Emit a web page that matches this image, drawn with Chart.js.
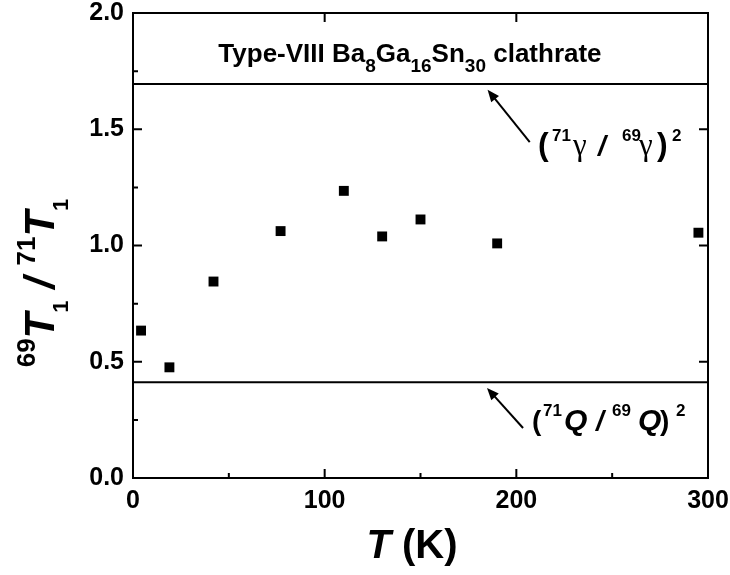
<!DOCTYPE html>
<html>
<head>
<meta charset="utf-8">
<script src="https://cdn.jsdelivr.net/npm/chart.js@4.4.0/dist/chart.umd.min.js"></script>
<style>
  html, body { margin: 0; padding: 0; background: #fff; }
</style>
</head>
<body>
<canvas id="myChart" width="730" height="575"></canvas>
<script>
// measured points: temperature (K) and 69T1/71T1
const temps = [4.2, 19, 42, 77, 110, 130, 150, 190, 295];
const ratios = [0.634, 0.476, 0.845, 1.062, 1.235, 1.039, 1.112, 1.009, 1.055];
// reference levels
const gammaLevel = 1.695; // (71γ/69γ)^2
const quadLevel = 0.412;  // (71Q/69Q)^2
const xTicks = [0, 100, 200, 300];
const yTicks = [0.0, 0.5, 1.0, 1.5, 2.0];
const xMinor = [50, 150, 250];
const yMinor = [0.25, 0.75, 1.25, 1.75];

const FONT = "'Liberation Sans', Arial, sans-serif";
const GREEK = "'Liberation Serif', 'Times New Roman', serif";

// draws text pieces one after another; a piece may carry its own x offset
function richText(ctx, parts, x, y, align) {
    let w = 0;
    parts.forEach(p => {
        ctx.font = p.f;
        p.w = ctx.measureText(p.t).width;
        w += p.w;
    });
    let cx = align === 'center' ? x - w / 2 : x;
    ctx.textAlign = 'left';
    ctx.textBaseline = 'alphabetic';
    parts.forEach(p => {
        ctx.font = p.f;
        const px = p.x !== undefined ? x + p.x : cx;
        ctx.fillText(p.t, px, y + (p.dy || 0));
        cx = px + p.w;
    });
}

function arrow(ctx, x1, y1, x2, y2) {
    const a = Math.atan2(y2 - y1, x2 - x1);
    const len = 12, wid = 5;
    ctx.beginPath();
    ctx.moveTo(x1, y1);
    ctx.lineTo(x2 - Math.cos(a) * len * 0.8, y2 - Math.sin(a) * len * 0.8);
    ctx.lineWidth = 2;
    ctx.stroke();
    ctx.beginPath();
    ctx.moveTo(x2, y2);
    ctx.lineTo(x2 - Math.cos(a) * len + Math.sin(a) * wid, y2 - Math.sin(a) * len - Math.cos(a) * wid);
    ctx.lineTo(x2 - Math.cos(a) * len - Math.sin(a) * wid, y2 - Math.sin(a) * len + Math.cos(a) * wid);
    ctx.closePath();
    ctx.fill();
}

const decor = {
    id: 'decor',
    afterDraw(chart) {
        const ctx = chart.ctx;
        const a = chart.chartArea;
        const xs = chart.scales.x, ys = chart.scales.y;
        ctx.save();
        ctx.strokeStyle = '#000';
        ctx.fillStyle = '#000';
        ctx.lineWidth = 2;
        ctx.strokeRect(a.left, a.top, a.right - a.left, a.bottom - a.top);

        // inward ticks
        ctx.beginPath();
        xTicks.forEach(v => {
            const px = xs.getPixelForValue(v);
            ctx.moveTo(px, a.bottom); ctx.lineTo(px, a.bottom - 9);
            ctx.moveTo(px, a.top); ctx.lineTo(px, a.top + 9);
        });
        xMinor.forEach(v => {
            const px = xs.getPixelForValue(v);
            ctx.moveTo(px, a.bottom); ctx.lineTo(px, a.bottom - 5);
        });
        yTicks.forEach(v => {
            const py = ys.getPixelForValue(v);
            ctx.moveTo(a.left, py); ctx.lineTo(a.left + 9, py);
            ctx.moveTo(a.right, py); ctx.lineTo(a.right - 9, py);
        });
        yMinor.forEach(v => {
            const py = ys.getPixelForValue(v);
            ctx.moveTo(a.left, py); ctx.lineTo(a.left + 5, py);
        });
        ctx.stroke();

        const bold = s => 'bold ' + s + 'px ' + FONT;
        const boldIt = s => 'italic bold ' + s + 'px ' + FONT;
        const greek = s => s + 'px ' + GREEK;

        // title inside the plot
        richText(ctx, [
            { t: 'Type-VIII Ba', f: bold(26) },
            { t: '8', f: bold(19), dy: 10 },
            { t: 'Ga', f: bold(26) },
            { t: '16', f: bold(19), dy: 10 },
            { t: 'Sn', f: bold(26) },
            { t: '30', f: bold(19), dy: 10 },
            { t: ' clathrate', f: bold(26) }
        ], xs.getPixelForValue(144.5), ys.getPixelForValue(1.79), 'center');

        // gamma annotation
        arrow(ctx, xs.getPixelForValue(207), ys.getPixelForValue(1.445),
            xs.getPixelForValue(185), ys.getPixelForValue(1.67));
        richText(ctx, [
            { t: '(', f: bold(32), x: 0 },
            { t: '71', f: bold(17), dy: -14, x: 14 },
            { t: 'γ', f: greek(31), x: 35 },
            { t: '/', f: boldIt(28), x: 60 },
            { t: '69', f: bold(17), dy: -14, x: 84 },
            { t: 'γ', f: greek(31), x: 101 },
            { t: ')', f: bold(32), x: 119 },
            { t: '2', f: bold(17), dy: -14, x: 134 }
        ], xs.getPixelForValue(211.3), ys.getPixelForValue(1.389), 'left');

        // quadrupole annotation
        arrow(ctx, xs.getPixelForValue(203.5), ys.getPixelForValue(0.215),
            xs.getPixelForValue(184.7), ys.getPixelForValue(0.387));
        richText(ctx, [
            { t: '(', f: bold(28), x: 0 },
            { t: '71', f: bold(17), dy: -14, x: 11 },
            { t: 'Q', f: boldIt(30), x: 32 },
            { t: '/', f: boldIt(28), x: 64 },
            { t: '69', f: bold(17), dy: -14, x: 80 },
            { t: 'Q', f: boldIt(30), x: 106 },
            { t: ')', f: bold(28), x: 128 },
            { t: '2', f: bold(17), dy: -14, x: 144 }
        ], xs.getPixelForValue(208.2), ys.getPixelForValue(0.206), 'left');

        // x axis title
        richText(ctx, [
            { t: 'T', f: boldIt(40) },
            { t: ' (K)', f: bold(40) }
        ], 412, 558, 'center');

        // y axis title, rotated
        ctx.translate(54, 283);
        ctx.rotate(-Math.PI / 2);
        richText(ctx, [
            { t: '69', f: bold(26), dy: -19 },
            { t: 'T', f: boldIt(42) },
            { t: '1', f: bold(22), dy: 14 },
            { t: ' / ', f: boldIt(42) },
            { t: '71', f: bold(26), dy: -19 },
            { t: 'T', f: boldIt(42) },
            { t: '1', f: bold(22), dy: 14 }
        ], 0, 0, 'center');
        ctx.restore();
    }
};

const ctx = document.getElementById('myChart');

new Chart(ctx, {
    type: 'scatter',
    data: {
        datasets: [{
            data: temps.map((t, i) => ({ x: t, y: ratios[i] })),
            pointStyle: 'rect',
            pointRadius: 7,
            backgroundColor: '#000',
            borderColor: '#000',
            borderWidth: 0
        }, {
            data: [{ x: xTicks[0], y: gammaLevel }, { x: xTicks[xTicks.length - 1], y: gammaLevel }],
            showLine: true,
            borderColor: '#000',
            borderWidth: 2,
            pointRadius: 0
        }, {
            data: [{ x: xTicks[0], y: quadLevel }, { x: xTicks[xTicks.length - 1], y: quadLevel }],
            showLine: true,
            borderColor: '#000',
            borderWidth: 2,
            pointRadius: 0
        }]
    },
    options: {
        responsive: false,
        animation: false,
        layout: { padding: { top: 13, right: 22, left: 0, bottom: 0 } },
        plugins: { legend: { display: false }, tooltip: { enabled: false } },
        scales: {
            x: {
                type: 'linear',
                min: xTicks[0],
                max: xTicks[xTicks.length - 1],
                grid: { display: false, drawTicks: false },
                border: { display: false },
                afterBuildTicks: s => { s.ticks = xTicks.map(v => ({ value: v })); },
                afterFit: s => { s.height = 97; s.paddingLeft = 0; s.paddingRight = 0; },
                ticks: {
                    color: '#000',
                    padding: 8,
                    font: { family: FONT, weight: 'bold', size: 25 },
                    callback: v => String(v)
                }
            },
            y: {
                type: 'linear',
                min: yTicks[0],
                max: yTicks[yTicks.length - 1],
                grid: { display: false, drawTicks: false },
                border: { display: false },
                afterBuildTicks: s => { s.ticks = yTicks.map(v => ({ value: v })); },
                afterFit: s => { s.width = 133; s.paddingTop = 0; s.paddingBottom = 0; },
                ticks: {
                    color: '#000',
                    padding: 9,
                    font: { family: FONT, weight: 'bold', size: 25 },
                    callback: v => Number(v).toFixed(1)
                }
            }
        }
    },
    plugins: [decor]
});
</script>
</body>
</html>
